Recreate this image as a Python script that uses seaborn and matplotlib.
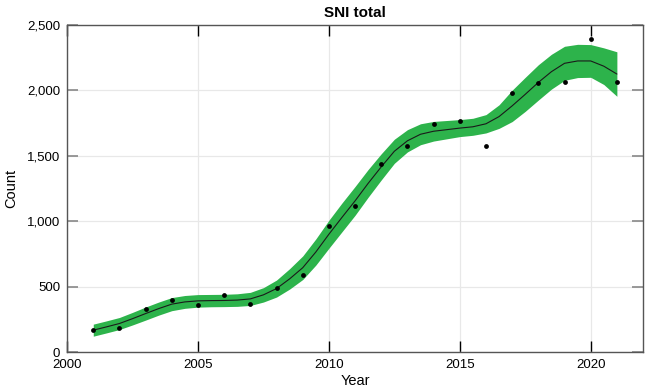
import matplotlib
matplotlib.use("Agg")
import matplotlib.pyplot as plt
import matplotlib.ticker as mticker
import seaborn as sns
import numpy as np

# observed yearly counts
years = [2001, 2002, 2003, 2004, 2005, 2006, 2007, 2008, 2009, 2010, 2011,
         2012, 2013, 2014, 2015, 2016, 2017, 2018, 2019, 2020, 2021]
counts = [166, 183, 331, 398, 359, 438, 365, 492, 586, 961, 1119,
          1437, 1574, 1743, 1763, 1574, 1982, 2056, 2061, 2393, 2061]

# fitted trend and its band, read at half-year steps
fit_years = [2001, 2001.5, 2002, 2002.5, 2003, 2003.5, 2004, 2004.5, 2005, 2005.5,
             2006, 2006.5, 2007, 2007.5, 2008, 2008.5, 2009, 2009.5, 2010, 2010.5,
             2011, 2011.5, 2012, 2012.5, 2013, 2013.5, 2014, 2014.5, 2015, 2015.5,
             2016, 2016.5, 2017, 2017.5, 2018, 2018.5, 2019, 2019.5, 2020, 2020.5, 2021]
fit = [168, 193, 219, 256, 295, 333, 367, 384, 392, 394,
       395, 398, 407, 438, 486, 560, 645, 765, 901, 1030,
       1156, 1290, 1416, 1535, 1615, 1665, 1688, 1700, 1712, 1722,
       1745, 1800, 1882, 1970, 2061, 2143, 2207, 2225, 2225, 2185, 2125]
half_width = [46, 46, 46, 48, 50, 50, 50, 49, 48, 47,
              47, 48, 50, 55, 65, 78, 90, 100, 107, 110,
              110, 106, 100, 92, 85, 80, 75, 70, 65, 65,
              70, 90, 120, 130, 135, 133, 130, 127, 125, 140, 170]

sns.set_style("white")
plt.rcParams["font.family"] = ["Liberation Sans", "DejaVu Sans"]
plt.rcParams["text.color"] = "black"
plt.rcParams["axes.labelcolor"] = "black"
plt.rcParams["xtick.labelcolor"] = "black"
plt.rcParams["ytick.labelcolor"] = "black"

fig = plt.figure(figsize=(6.45, 3.9), dpi=100)
ax = fig.add_axes([0.104, 0.097, 0.893, 0.839])

lower = np.array(fit) - np.array(half_width)
upper = np.array(fit) + np.array(half_width)
ax.fill_between(fit_years, lower, upper, color="#2db34b", linewidth=0, zorder=2)
sns.lineplot(x=fit_years, y=fit, ax=ax, color="#1a1a1a", linewidth=0.8, zorder=3)
sns.scatterplot(x=years, y=counts, ax=ax, color="black", s=12, linewidth=0, zorder=4)

ax.set_xlim(2000, 2022)
ax.set_ylim(0, 2500)
ax.set_xticks([2000, 2005, 2010, 2015, 2020])
ax.set_yticks([0, 500, 1000, 1500, 2000, 2500])
ax.yaxis.set_major_formatter(mticker.FuncFormatter(lambda v, p: f"{int(v):,}"))

ax.grid(True, color="#e8e8e8", linewidth=0.9, zorder=0)
ax.set_axisbelow(True)
for side in ax.spines.values():
    side.set_color("#555555")
    side.set_linewidth(1.0)

ax.tick_params(axis="x", direction="in", length=8, width=1.0, color="black",
               top=True, bottom=True, labelsize=9.5, pad=5)
ax.tick_params(axis="y", direction="in", length=8, width=1.2, color="#888888",
               left=True, right=True, labelsize=9.5, pad=5)

ax.set_xlabel("Year", fontsize=10.5, labelpad=2)
ax.set_ylabel("Count", fontsize=10.5, labelpad=6)
ax.set_title("SNI total", fontsize=11, fontweight="bold", pad=6)

fig.savefig("out.png", dpi=100)
